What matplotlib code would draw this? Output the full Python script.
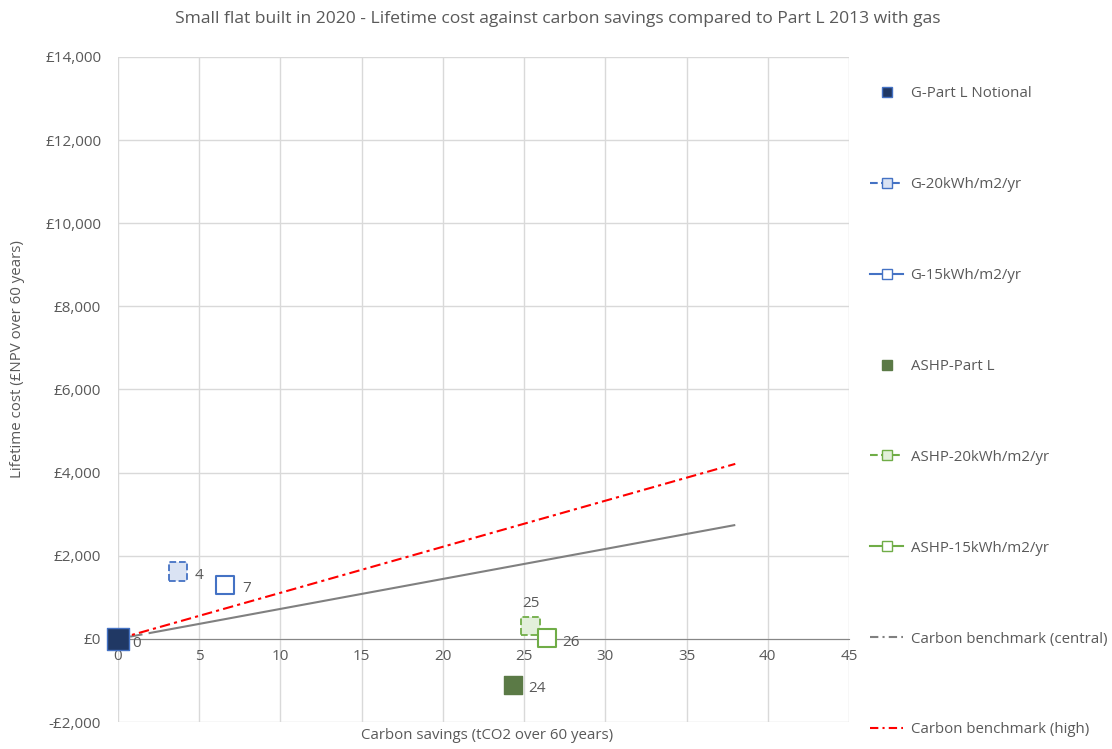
import matplotlib
matplotlib.use("Agg")
import matplotlib.pyplot as plt
from matplotlib.lines import Line2D

plt.rcParams["font.family"] = ["Open Sans", "DejaVu Sans"]
TEXT = "#595959"

# carbon savings (tCO2 over 60 years) and lifetime cost (£NPV over 60 years)
series_names = ["G-Part L Notional", "G-20kWh/m2/yr", "G-15kWh/m2/yr",
                "ASHP-Part L", "ASHP-20kWh/m2/yr", "ASHP-15kWh/m2/yr"]
savings = [0.0, 3.7, 6.6, 24.3, 25.4, 26.4]
costs = [0, 1620, 1300, -1110, 310, 10]
point_labels = ["0", "4", "7", "24", "25", "26"]

bench_x = [0, 38]
bench_central = [0, 2740]
bench_high = [0, 4210]

x_ticks = [0, 5, 10, 15, 20, 25, 30, 35, 40, 45]
y_ticks = [-2000, 0, 2000, 4000, 6000, 8000, 10000, 12000, 14000]

styles = [
    dict(face="#203864", edge="#4472c4", ls="-", lw=1.0),
    dict(face="#dae3f3", edge="#4472c4", ls="--", lw=1.3),
    dict(face="white", edge="#4472c4", ls="-", lw=1.5),
    dict(face="#5b7a46", edge="#5b7a46", ls="-", lw=1.0),
    dict(face="#e2efda", edge="#70ad47", ls="--", lw=1.3),
    dict(face="white", edge="#70ad47", ls="-", lw=1.5),
]
label_offsets = [(10, -9), (12, -8), (12, -8), (11, -8), (0, 11), (11, -8)]
label_align = [("left", "bottom"), ("left", "bottom"), ("left", "bottom"),
               ("left", "bottom"), ("center", "bottom"), ("left", "bottom")]

fig = plt.figure(figsize=(11.12, 7.49), dpi=100)
ax = fig.add_axes([0.106, 0.036, 0.6575, 0.888])

ax.plot(bench_x, bench_central, color="#808080", lw=1.5,
        linestyle=(0, (3, 3, 6, 3, 1000, 1)), zorder=2)
ax.plot(bench_x, bench_high, color="#ff0000", lw=1.5,
        linestyle=(0, (5, 2, 1.5, 2)), zorder=3)

for i, name in enumerate(series_names):
    st = styles[i]
    size = 240 if i == 0 else 180
    ax.scatter([savings[i]], [costs[i]], s=size, marker="s", facecolors=st["face"],
               edgecolors=st["edge"], linewidths=st["lw"], linestyles=st["ls"],
               zorder=4, clip_on=False)
    ha, va = label_align[i]
    ax.annotate(point_labels[i], (savings[i], costs[i]), xytext=label_offsets[i],
                textcoords="offset points", ha=ha, va=va, fontsize=11, color=TEXT,
                zorder=5)

ax.set_xlim(0, 45)
ax.set_ylim(-2000, 14000)
ax.set_xticks(x_ticks)
ax.set_yticks(y_ticks)
ax.set_yticklabels([f"-£{abs(v):,}" if v < 0 else f"£{v:,}" for v in y_ticks])
ax.grid(True, color="#d9d9d9", lw=1.0, zorder=0)
ax.set_axisbelow(True)
for side in ["top", "right", "left"]:
    ax.spines[side].set_visible(False)
# horizontal axis crosses at zero cost
ax.spines["bottom"].set_position(("data", 0))
ax.spines["bottom"].set_color("#868686")
ax.spines["bottom"].set_zorder(1)
ax.tick_params(length=0, labelsize=11, labelcolor=TEXT)
ax.tick_params(axis="x", pad=7)
ax.tick_params(axis="y", pad=12)
fig.text(0.438, 0.018, "Carbon savings (tCO2 over 60 years)", fontsize=10.8,
         color=TEXT, ha="center", va="center")
fig.text(0.016, 0.52, "Lifetime cost (£NPV over 60 years)", fontsize=10.8,
         color=TEXT, ha="center", va="center", rotation=90)
fig.suptitle("Small flat built in 2020 - Lifetime cost against carbon savings compared to Part L 2013 with gas",
             x=0.502, y=0.985, fontsize=12.6, color=TEXT)

handles = [
    Line2D([], [], ls="none", marker="s", ms=7, mfc=styles[0]["face"], mec=styles[0]["edge"]),
    Line2D([], [], ls="--", color="#4472c4", marker="s", ms=7, mfc=styles[1]["face"], mec="#4472c4"),
    Line2D([], [], ls="-", color="#4472c4", marker="s", ms=7, mfc="white", mec="#4472c4"),
    Line2D([], [], ls="none", marker="s", ms=7, mfc=styles[3]["face"], mec=styles[3]["edge"]),
    Line2D([], [], ls="--", color="#70ad47", marker="s", ms=7, mfc=styles[4]["face"], mec="#70ad47"),
    Line2D([], [], ls="-", color="#70ad47", marker="s", ms=7, mfc="white", mec="#70ad47"),
    Line2D([], [], ls=(0, (4, 2, 1, 2)), color="#808080", lw=1.5),
    Line2D([], [], ls=(0, (4, 2, 1, 2)), color="#ff0000", lw=1.5),
]
names = series_names + ["Carbon benchmark (central)", "Carbon benchmark (high)"]
leg = fig.legend(handles, names, loc="upper left", bbox_to_anchor=(0.777, 0.893),
                 frameon=False, fontsize=10.8, labelspacing=5.06, handlelength=2.2,
                 handletextpad=0.5, borderaxespad=0)
for t in leg.get_texts():
    t.set_color(TEXT)

fig.savefig("out.png", dpi=100)
